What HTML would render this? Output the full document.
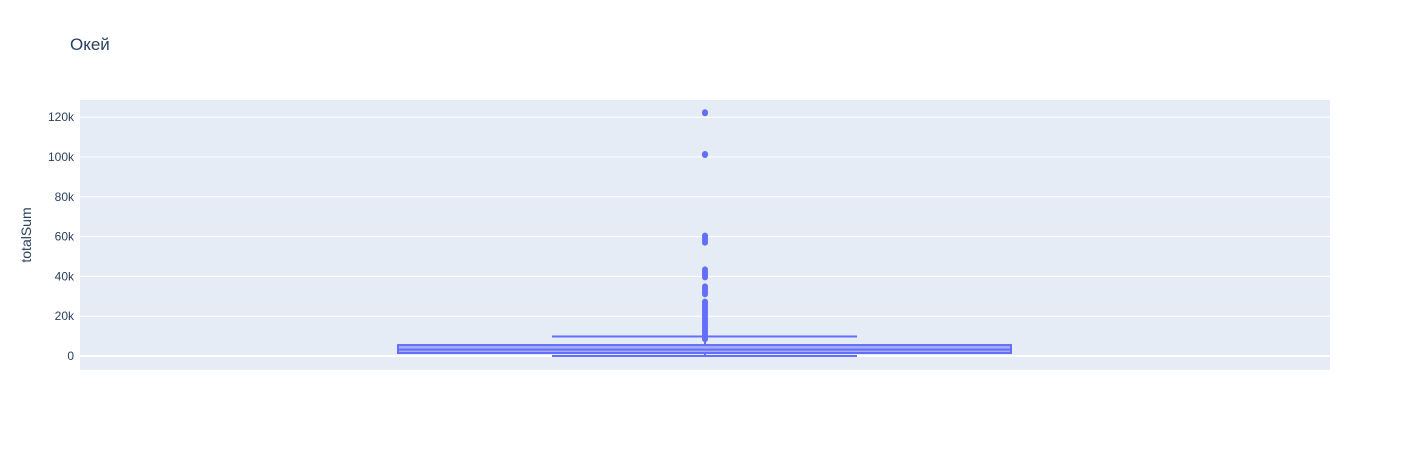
<!DOCTYPE html>
<html><head><meta charset="utf-8"><style>
body{margin:0;background:#fff;font-family:"Liberation Sans","Noto Sans CJK JP",sans-serif}
</style></head><body>
<svg id="chart" width="1410" height="450" xmlns="http://www.w3.org/2000/svg">
<rect width="1410" height="450" fill="#fff"/>
<text x="70" y="50" font-size="17" fill="#2a3f5f">Окей</text>
<rect x="80" y="100" width="1250" height="270" fill="#e5ecf6"/>
<g id="grid"></g>
<g id="yticks"></g>
<text transform="translate(31,235) rotate(-90)" text-anchor="middle" font-size="14" fill="#2a3f5f">totalSum</text>
<g id="box"></g>
</svg>
<script>
const yTicks=[0,20000,40000,60000,80000,100000,120000];
const yTickLabels=["0","20k","40k","60k","80k","100k","120k"];
const q1=[1500];
const median=[3200];
const q3=[5500];
const lowerFence=[0];
const upperFence=[9800];
const outliers=[8500,9500,10500,11500,12500,13500,14500,15500,16500,17500,18500,19500,20500,21500,22500,23500,24500,25500,26500,27300,31000,32000,33000,34000,35000,39500,40500,41500,42500,43500,57000,58000,59000,60000,60500,101000,101500,122000,122500];
const NS="http://www.w3.org/2000/svg";
function y(v){return 356-v*(199/100000);}
function mk(t,a,p){const e=document.createElementNS(NS,t);for(const k in a)e.setAttribute(k,a[k]);p.appendChild(e);return e;}
const grid=document.getElementById('grid'),yt=document.getElementById('yticks'),box=document.getElementById('box');
yTicks.forEach((v,i)=>{
 const l=mk('line',{x1:80,x2:1330,y1:y(v),y2:y(v),stroke:'#fff','stroke-width':v===0?2:1},grid);
 
 
 const t=mk('text',{x:74,y:y(v)+4,'text-anchor':'end','font-size':12,fill:'#2a3f5f'},yt);
 t.textContent=yTickLabels[i];
 
 
});
const cx=705,bl=398,br=1011,wl=552,wr=857,col='#636efa';
let w=mk('line',{x1:cx,x2:cx,y1:y(q3[0]),y2:y(upperFence[0]),stroke:col,'stroke-width':2},box);


w=mk('line',{x1:cx,x2:cx,y1:y(q1[0]),y2:y(lowerFence[0]),stroke:col,'stroke-width':2},box);


w=mk('line',{x1:wl,x2:wr,y1:y(upperFence[0]),y2:y(upperFence[0]),stroke:col,'stroke-width':2},box);


w=mk('line',{x1:wl,x2:wr,y1:y(lowerFence[0]),y2:y(lowerFence[0]),stroke:col,'stroke-width':2},box);


const r=mk('rect',{x:bl,y:y(q3[0]),width:br-bl,height:y(q1[0])-y(q3[0]),fill:'rgba(99,110,250,0.5)',stroke:col,'stroke-width':2},box);


const m=mk('line',{x1:bl,x2:br,y1:y(median[0]),y2:y(median[0]),stroke:col,'stroke-width':2},box);


outliers.forEach(v=>{
 const c=mk('circle',{cx:cx,cy:y(v),r:3,fill:col},box);
 
 
});
</script>
</body></html>
